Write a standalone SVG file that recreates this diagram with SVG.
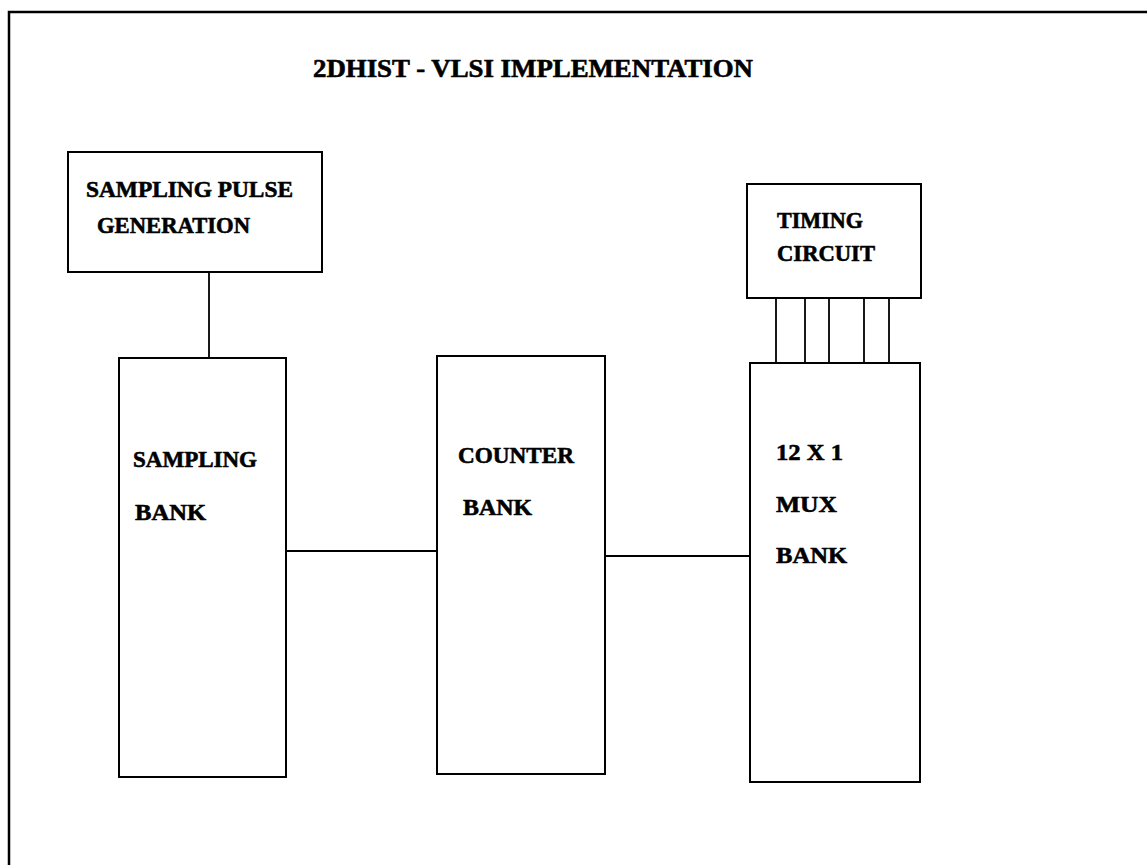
<svg xmlns="http://www.w3.org/2000/svg" width="1147" height="865" viewBox="0 0 1147 865">
<style>
.box{fill:#fff;stroke:#000;stroke-width:2}
.frame{fill:none;stroke:#000;stroke-width:2.5}
.wire{fill:none;stroke:#000;stroke-width:1.8}
text{font-family:"Liberation Serif","Times New Roman",serif;font-weight:bold;font-size:24px;fill:#000;stroke:#000;stroke-width:0.6}
.title{font-size:26px}
</style>
<rect width="1147" height="865" fill="#fff"/>
<path class="frame" d="M9,870 V12 H1150"/>
<text class="title" x="313" y="77" textLength="440" lengthAdjust="spacingAndGlyphs">2DHIST - VLSI IMPLEMENTATION</text>
<g id="connectors">
<line class="wire" x1="209" y1="272" x2="209" y2="358"/>
<line class="wire" x1="286" y1="551" x2="437" y2="551"/>
<line class="wire" x1="605" y1="556" x2="750" y2="556"/>
<line class="wire" x1="776" y1="298" x2="776" y2="363"/>
<line class="wire" x1="805" y1="298" x2="805" y2="363"/>
<line class="wire" x1="829" y1="298" x2="829" y2="363"/>
<line class="wire" x1="864" y1="298" x2="864" y2="363"/>
<line class="wire" x1="889" y1="298" x2="889" y2="363"/>
</g>
<g id="sampling-pulse-generation">
<rect class="box" x="68" y="152" width="254" height="120"/>
<text x="86" y="197" textLength="207" lengthAdjust="spacingAndGlyphs">SAMPLING PULSE</text>
<text x="97" y="233" textLength="153" lengthAdjust="spacingAndGlyphs">GENERATION</text>
</g>
<g id="sampling-bank">
<rect class="box" x="119" y="358" width="167" height="419"/>
<text x="133" y="467" textLength="124" lengthAdjust="spacingAndGlyphs">SAMPLING</text>
<text x="135" y="520" textLength="71" lengthAdjust="spacingAndGlyphs">BANK</text>
</g>
<g id="counter-bank">
<rect class="box" x="437" y="356" width="168" height="418"/>
<text x="458" y="463" textLength="116" lengthAdjust="spacingAndGlyphs">COUNTER</text>
<text x="463" y="515" textLength="69" lengthAdjust="spacingAndGlyphs">BANK</text>
</g>
<g id="timing-circuit">
<rect class="box" x="747" y="184" width="174" height="114"/>
<text x="777" y="228" textLength="86" lengthAdjust="spacingAndGlyphs">TIMING</text>
<text x="777" y="261" textLength="98" lengthAdjust="spacingAndGlyphs">CIRCUIT</text>
</g>
<g id="mux-bank">
<rect class="box" x="750" y="363" width="170" height="419"/>
<text x="776" y="460" textLength="67" lengthAdjust="spacingAndGlyphs">12 X 1</text>
<text x="776" y="512" textLength="61" lengthAdjust="spacingAndGlyphs">MUX</text>
<text x="776" y="563" textLength="71" lengthAdjust="spacingAndGlyphs">BANK</text>
</g>
</svg>
